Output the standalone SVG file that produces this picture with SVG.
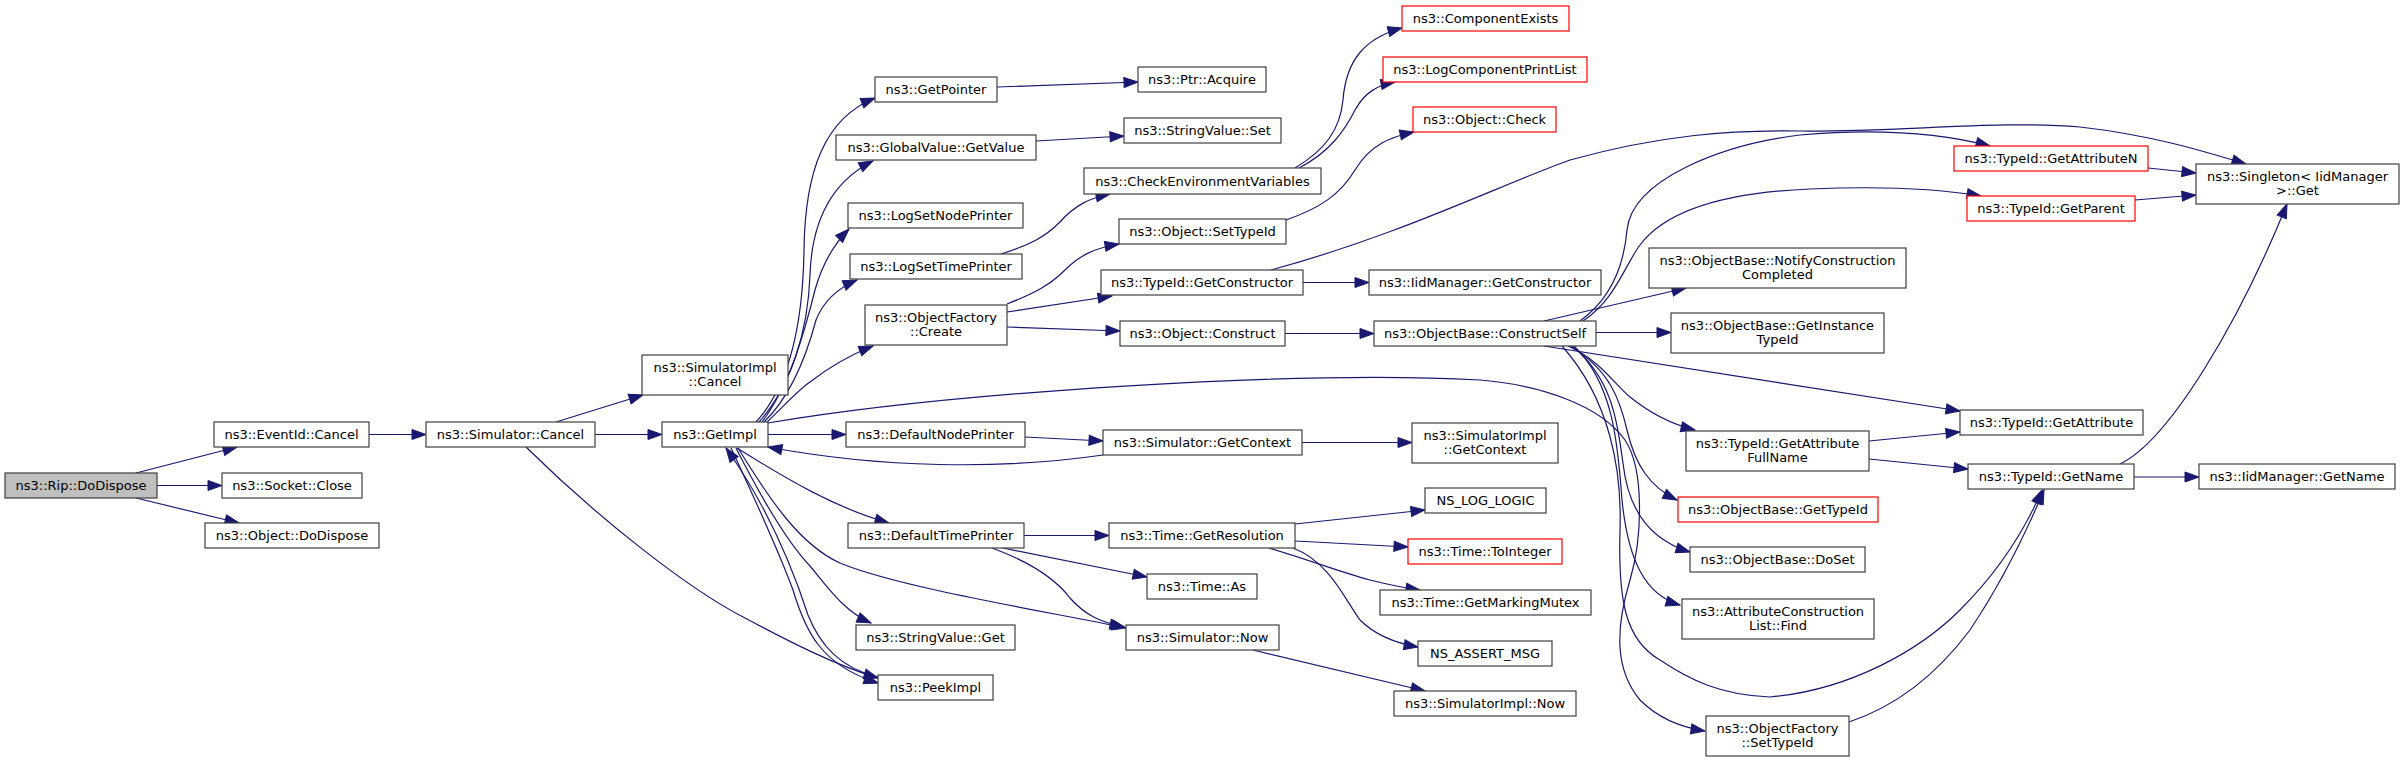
<svg xmlns="http://www.w3.org/2000/svg" width="2404" height="762" viewBox="0 0 2404 762">
<style>
.n rect{fill:#ffffff;stroke:#404040;stroke-width:1.2}
.n.r rect{stroke:#ff0000}
.n.s rect{fill:#bfbfbf}
.n text{font-family:"DejaVu Sans","Liberation Sans",sans-serif;font-size:13px;text-anchor:middle;fill:#000000}
#edges path{fill:none;stroke:#191970;stroke-width:1.2;marker-end:url(#a)}
</style>
<defs>
<marker id="a" markerWidth="15" markerHeight="11" refX="14" refY="5" orient="auto" markerUnits="userSpaceOnUse" style="overflow:visible">
<path d="M0,0 L14,5 L0,10 z" fill="#191970" stroke="#191970" stroke-width="1"/>
</marker>
</defs>
<rect x="0" y="0" width="2404" height="762" fill="#ffffff"/>
<g id="edges">
<path d="M136,473 L237,447"/>
<path d="M157,485.5 L222,485.5"/>
<path d="M136,498 L239,523"/>
<path d="M369,434.5 L426,434.5"/>
<path d="M556,422 L643,395"/>
<path d="M595,434.5 L662,434.5"/>
<path d="M526,447 C600,520 690,590 745,618 C790,642 835,665 878,678"/>
<path d="M756,422 C790,385 803,320 804,250 C805,170 825,118 875,98"/>
<path d="M759,422 C792,385 808,330 810,275 C812,215 835,180 873,161"/>
<path d="M762,422 C790,385 805,330 815,290 C822,265 833,245 849,229"/>
<path d="M764,422 C792,395 808,350 816,320 C824,300 838,288 857,280"/>
<path d="M767,422 C785,405 798,390 810,382 C828,368 850,355 873,346"/>
<path d="M768,434.5 L846,434.5"/>
<path d="M737,448 C785,478 835,508 889,523"/>
<path d="M736,448 C765,505 790,545 810,566 C830,590 845,612 871,623"/>
<path d="M731,448 C760,510 782,560 793,590 C805,630 820,665 878,683"/>
<path d="M878,677 C840,668 820,645 808,615 C795,575 770,510 726,448"/>
<path d="M738,448 C770,500 800,545 840,563 C900,588 1050,612 1126,628"/>
<path d="M1103,455 C1000,470 880,468 768,447"/>
<path d="M1025,437 L1103,441"/>
<path d="M1302,442.5 L1412,442.5"/>
<path d="M997,87 L1138,82"/>
<path d="M1036,141 L1124,136"/>
<path d="M1001,254 C1030,245 1045,237 1060,222 C1075,205 1090,198 1110,194"/>
<path d="M1007,304 C1035,293 1050,285 1065,270 C1080,255 1095,248 1119,244"/>
<path d="M1007,312 L1112,296"/>
<path d="M1007,327 L1120,331"/>
<path d="M1295,168 C1325,150 1340,130 1343,100 C1346,60 1365,38 1402,28"/>
<path d="M1299,168 C1330,152 1345,130 1355,110 C1365,92 1378,85 1395,82"/>
<path d="M1286,220 C1320,208 1340,195 1355,170 C1370,145 1390,137 1414,132"/>
<path d="M1303,282.5 L1369,282.5"/>
<path d="M1271,270 C1400,235 1500,185 1570,160 C1660,135 1730,130 1800,131 C1900,132 2000,120 2080,127 C2150,135 2200,150 2246,164"/>
<path d="M1285,333.5 L1374,333.5"/>
<path d="M1544,321 L1686,288"/>
<path d="M1596,332.5 L1671,332.5"/>
<path d="M1580,321 C1612,298 1624,265 1627,230 C1632,180 1720,145 1800,135 C1880,128 1940,133 1990,146"/>
<path d="M1583,321 C1615,300 1625,265 1640,245 C1670,205 1740,192 1810,189 C1880,186 1940,189 1981,196"/>
<path d="M1544,346 L1960,411"/>
<path d="M1568,346 C1600,360 1615,385 1630,397 C1650,413 1670,424 1695,430"/>
<path d="M1570,346 C1610,370 1620,400 1627,430 C1635,465 1650,487 1677,500"/>
<path d="M1572,346 C1615,380 1618,430 1623,463 C1628,510 1650,540 1690,552"/>
<path d="M1574,346 C1615,385 1618,450 1622,500 C1628,560 1645,595 1680,605"/>
<path d="M1562,346 C1610,400 1622,470 1620,530 C1618,600 1625,640 1660,660 C1690,680 1720,695 1770,697 C1850,690 1920,650 1960,610 C2000,570 2025,530 2042,490"/>
<path d="M768,423 C950,392 1300,370 1480,380 C1540,385 1600,405 1625,440 C1645,470 1642,540 1630,580 C1615,630 1615,670 1640,700 C1660,720 1685,728 1705,731"/>
<path d="M1849,722 C1900,705 1940,670 1970,630 C2000,585 2025,535 2044,490"/>
<path d="M1869,441 L1960,432"/>
<path d="M1869,459 L1968,469"/>
<path d="M2148,168 L2196,173"/>
<path d="M2135,200 L2196,195"/>
<path d="M2120,464 C2170,440 2240,320 2287,204"/>
<path d="M2134,477 L2199,477"/>
<path d="M1024,535.5 L1109,535.5"/>
<path d="M1003,548 L1147,577"/>
<path d="M992,548 C1030,562 1055,578 1070,598 C1085,615 1100,622 1124,627"/>
<path d="M1295,524 L1425,510"/>
<path d="M1295,541 L1408,547"/>
<path d="M1269,548 C1310,560 1340,572 1370,580 C1390,585 1405,588 1420,590"/>
<path d="M1293,548 C1330,562 1345,600 1360,620 C1375,635 1395,643 1418,647"/>
<path d="M1253,650 L1425,691"/>
</g>
<g id="n0" class="n s"><rect x="5" y="473" width="152" height="25"/><text x="81" y="490">ns3::Rip::DoDispose</text></g>
<g id="n1" class="n"><rect x="214" y="422" width="155" height="25"/><text x="291.5" y="439">ns3::EventId::Cancel</text></g>
<g id="n2" class="n"><rect x="222" y="473" width="140" height="25"/><text x="292" y="490">ns3::Socket::Close</text></g>
<g id="n3" class="n"><rect x="205" y="523" width="174" height="25"/><text x="292" y="540">ns3::Object::DoDispose</text></g>
<g id="n4" class="n"><rect x="426" y="422" width="169" height="25"/><text x="510.5" y="439">ns3::Simulator::Cancel</text></g>
<g id="n5" class="n"><rect x="642" y="355" width="146" height="40"/><text x="715" y="372">ns3::SimulatorImpl</text><text x="715" y="386">::Cancel</text></g>
<g id="n6" class="n"><rect x="662" y="422" width="106" height="25"/><text x="715" y="439">ns3::GetImpl</text></g>
<g id="n7" class="n"><rect x="875" y="77" width="122" height="25"/><text x="936" y="94">ns3::GetPointer</text></g>
<g id="n8" class="n"><rect x="1138" y="67" width="128" height="25"/><text x="1202" y="84">ns3::Ptr::Acquire</text></g>
<g id="n9" class="n"><rect x="836" y="135" width="200" height="25"/><text x="936" y="152">ns3::GlobalValue::GetValue</text></g>
<g id="n10" class="n"><rect x="1124" y="118" width="157" height="25"/><text x="1202.5" y="135">ns3::StringValue::Set</text></g>
<g id="n11" class="n"><rect x="1084" y="168" width="237" height="26"/><text x="1202.5" y="185.5">ns3::CheckEnvironmentVariables</text></g>
<g id="n12" class="n"><rect x="848" y="203" width="175" height="25"/><text x="935.5" y="220">ns3::LogSetNodePrinter</text></g>
<g id="n13" class="n"><rect x="850" y="254" width="172" height="25"/><text x="936" y="271">ns3::LogSetTimePrinter</text></g>
<g id="n14" class="n"><rect x="1119" y="219" width="167" height="25"/><text x="1202.5" y="236">ns3::Object::SetTypeId</text></g>
<g id="n15" class="n"><rect x="1101" y="270" width="202" height="25"/><text x="1202" y="287">ns3::TypeId::GetConstructor</text></g>
<g id="n16" class="n"><rect x="865" y="305" width="142" height="40"/><text x="936" y="322">ns3::ObjectFactory</text><text x="936" y="336">::Create</text></g>
<g id="n17" class="n"><rect x="1120" y="321" width="165" height="25"/><text x="1202.5" y="338">ns3::Object::Construct</text></g>
<g id="n18" class="n"><rect x="846" y="422" width="179" height="25"/><text x="935.5" y="439">ns3::DefaultNodePrinter</text></g>
<g id="n19" class="n"><rect x="1103" y="430" width="199" height="25"/><text x="1202.5" y="447">ns3::Simulator::GetContext</text></g>
<g id="n20" class="n"><rect x="848" y="523" width="176" height="25"/><text x="936" y="540">ns3::DefaultTimePrinter</text></g>
<g id="n21" class="n"><rect x="1109" y="523" width="186" height="25"/><text x="1202" y="540">ns3::Time::GetResolution</text></g>
<g id="n22" class="n"><rect x="1147" y="574" width="110" height="25"/><text x="1202" y="591">ns3::Time::As</text></g>
<g id="n23" class="n"><rect x="856" y="625" width="159" height="25"/><text x="935.5" y="642">ns3::StringValue::Get</text></g>
<g id="n24" class="n"><rect x="1126" y="625" width="153" height="25"/><text x="1202.5" y="642">ns3::Simulator::Now</text></g>
<g id="n25" class="n"><rect x="878" y="675" width="115" height="25"/><text x="935.5" y="692">ns3::PeekImpl</text></g>
<g id="n26" class="n r"><rect x="1402" y="6" width="167" height="25"/><text x="1485.5" y="23">ns3::ComponentExists</text></g>
<g id="n27" class="n r"><rect x="1383" y="57" width="204" height="25"/><text x="1485" y="74">ns3::LogComponentPrintList</text></g>
<g id="n28" class="n r"><rect x="1413" y="107" width="143" height="25"/><text x="1484.5" y="124">ns3::Object::Check</text></g>
<g id="n29" class="n"><rect x="1369" y="270" width="232" height="25"/><text x="1485" y="287">ns3::IidManager::GetConstructor</text></g>
<g id="n30" class="n"><rect x="1374" y="321" width="222" height="25"/><text x="1485" y="338">ns3::ObjectBase::ConstructSelf</text></g>
<g id="n31" class="n"><rect x="1649" y="248" width="257" height="40"/><text x="1777.5" y="265">ns3::ObjectBase::NotifyConstruction</text><text x="1777.5" y="279">Completed</text></g>
<g id="n32" class="n"><rect x="1671" y="313" width="213" height="40"/><text x="1777.5" y="330">ns3::ObjectBase::GetInstance</text><text x="1777.5" y="344">TypeId</text></g>
<g id="n33" class="n"><rect x="1412" y="423" width="146" height="40"/><text x="1485" y="440">ns3::SimulatorImpl</text><text x="1485" y="454">::GetContext</text></g>
<g id="n34" class="n"><rect x="1425" y="488" width="121" height="25"/><text x="1485.5" y="505">NS_LOG_LOGIC</text></g>
<g id="n35" class="n r"><rect x="1408" y="539" width="154" height="25"/><text x="1485" y="556">ns3::Time::ToInteger</text></g>
<g id="n36" class="n"><rect x="1380" y="590" width="211" height="25"/><text x="1485.5" y="607">ns3::Time::GetMarkingMutex</text></g>
<g id="n37" class="n"><rect x="1418" y="641" width="134" height="25"/><text x="1485" y="658">NS_ASSERT_MSG</text></g>
<g id="n38" class="n"><rect x="1394" y="691" width="182" height="25"/><text x="1485" y="708">ns3::SimulatorImpl::Now</text></g>
<g id="n39" class="n"><rect x="1686" y="431" width="183" height="40"/><text x="1777.5" y="448">ns3::TypeId::GetAttribute</text><text x="1777.5" y="462">FullName</text></g>
<g id="n40" class="n r"><rect x="1678" y="497" width="200" height="25"/><text x="1778" y="514">ns3::ObjectBase::GetTypeId</text></g>
<g id="n41" class="n"><rect x="1690" y="547" width="175" height="25"/><text x="1777.5" y="564">ns3::ObjectBase::DoSet</text></g>
<g id="n42" class="n"><rect x="1682" y="599" width="192" height="40"/><text x="1778" y="616">ns3::AttributeConstruction</text><text x="1778" y="630">List::Find</text></g>
<g id="n43" class="n"><rect x="1706" y="716" width="143" height="40"/><text x="1777.5" y="733">ns3::ObjectFactory</text><text x="1777.5" y="747">::SetTypeId</text></g>
<g id="n44" class="n r"><rect x="1954" y="146" width="194" height="25"/><text x="2051" y="163">ns3::TypeId::GetAttributeN</text></g>
<g id="n45" class="n r"><rect x="1967" y="196" width="168" height="25"/><text x="2051" y="213">ns3::TypeId::GetParent</text></g>
<g id="n46" class="n"><rect x="2196" y="164" width="203" height="40"/><text x="2297.5" y="181">ns3::Singleton&lt; IidManager</text><text x="2297.5" y="195">&gt;::Get</text></g>
<g id="n47" class="n"><rect x="1960" y="410" width="183" height="25"/><text x="2051.5" y="427">ns3::TypeId::GetAttribute</text></g>
<g id="n48" class="n"><rect x="1968" y="464" width="166" height="25"/><text x="2051" y="481">ns3::TypeId::GetName</text></g>
<g id="n49" class="n"><rect x="2199" y="464" width="196" height="25"/><text x="2297" y="481">ns3::IidManager::GetName</text></g>
</svg>
